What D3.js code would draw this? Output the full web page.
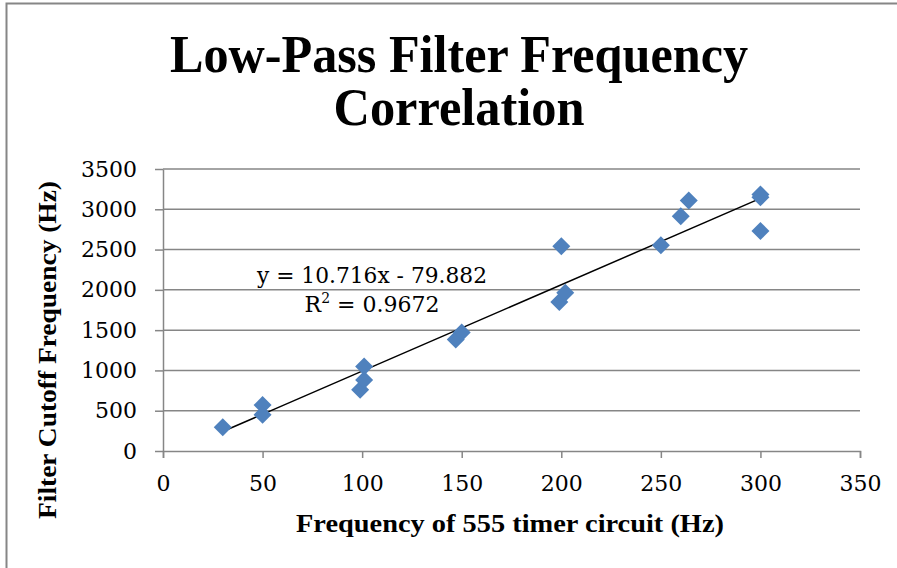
<!DOCTYPE html>
<html lang="en">
<head>
  <meta charset="UTF-8">
  <title>Low-Pass Filter Frequency Correlation</title>
  <script src="https://d3js.org/d3.v7.min.js"></script>
  <style>
    body { margin: 0; background: #fff; }
    .axis text { font-family: "DejaVu Serif", serif; font-size: 22px; fill: #000; }
    .axis path, .axis line { stroke: #868686; stroke-width: 1.5; }
    .grid line { stroke: #868686; stroke-width: 1.5; }
    .title { font-family: "Liberation Serif", serif; font-weight: bold; font-size: 53px; }
    .axis-label { font-family: "Liberation Serif", serif; font-weight: bold; font-size: 26px; }
    .eq { font-family: "DejaVu Serif", serif; font-size: 22px; }
  </style>
</head>
<body>
  <svg width="897" height="568"></svg>

  <script>
    // timer frequency (Hz) vs measured cutoff (Hz)
    const timerHz  = [30, 50, 50, 99, 101, 101, 147, 150, 199, 200, 202, 250, 260, 264, 300, 300, 300];
    const cutoffHz = [295, 570, 450, 760, 880, 1050, 1385, 1470, 1850, 2540, 1965, 2555, 2915, 3110, 3185, 3150, 2730];

    const xTicks = [0, 50, 100, 150, 200, 250, 300, 350];
    const yTicks = [0, 500, 1000, 1500, 2000, 2500, 3000, 3500];

    // trendline as printed on the chart
    const slope = 10.716;
    const intercept = -79.882;
    const rSquared = "0.9672";

    const svgWidth = 897, svgHeight = 568;
    const margin = { top: 169, right: 37, bottom: 117, left: 163 };
    const width = svgWidth - margin.left - margin.right;
    const height = svgHeight - margin.top - margin.bottom;

    const svg = d3.select("svg");

    // outer frame (left + top edges only visible)
    svg.append("path")
       .attr("d", `M6.5,${svgHeight} V3.5 H${svgWidth}`)
       .attr("fill", "none")
       .attr("stroke", "#868686")
       .attr("stroke-width", 2);

    const xScale = d3.scaleLinear().domain([0, 350]).range([0, width]);
    const yScale = d3.scaleLinear().domain([0, 3500]).range([height, 0]);

    const g = svg.append("g").attr("transform", `translate(${margin.left},${margin.top})`);

    // horizontal gridlines
    g.append("g")
     .attr("class", "grid")
     .selectAll("line")
     .data(yTicks.slice(1))
     .enter().append("line")
     .attr("x1", 0)
     .attr("x2", width)
     .attr("y1", d => yScale(d))
     .attr("y2", d => yScale(d));

    // axes
    g.append("g")
     .attr("class", "axis")
     .attr("transform", `translate(0,${height})`)
     .call(d3.axisBottom(xScale).tickValues(xTicks).tickFormat(d3.format("d"))
       .tickSize(7).tickSizeOuter(7).tickPadding(17));

    g.append("g")
     .attr("class", "axis")
     .call(d3.axisLeft(yScale).tickValues(yTicks).tickFormat(d3.format("d"))
       .tickSize(8).tickSizeOuter(0).tickPadding(18));

    // trendline
    const xMin = d3.min(timerHz), xMax = d3.max(timerHz);
    g.append("line")
     .attr("x1", xScale(xMin))
     .attr("y1", yScale(slope * xMin + intercept))
     .attr("x2", xScale(xMax))
     .attr("y2", yScale(slope * xMax + intercept))
     .attr("stroke", "#000")
     .attr("stroke-width", 1.5);

    // diamond markers
    g.selectAll(".pt")
     .data(d3.range(timerHz.length))
     .enter().append("path")
     .attr("class", "pt")
     .attr("d", "M0,-9L9,0L0,9L-9,0Z")
     .attr("transform", i => `translate(${xScale(timerHz[i])},${yScale(cutoffHz[i])})`)
     .attr("fill", "#4F81BD");

    // trendline equation
    svg.append("text").attr("class", "eq").attr("text-anchor", "middle")
       .attr("x", 372).attr("y", 283)
       .attr("textLength", 230).attr("lengthAdjust", "spacingAndGlyphs")
       .text(`y = ${slope}x - ${Math.abs(intercept)}`);
    const r2 = svg.append("text").attr("class", "eq").attr("text-anchor", "middle")
      .attr("x", 372).attr("y", 312);
    r2.append("tspan").text("R");
    r2.append("tspan").attr("dy", -9).style("font-size", "14px").text("2");
    r2.append("tspan").attr("dy", 9).text(` = ${rSquared}`);

    // chart title
    svg.append("text").attr("class", "title")
       .attr("x", 459).attr("y", 72)
       .attr("text-anchor", "middle")
       .attr("textLength", 578).attr("lengthAdjust", "spacingAndGlyphs")
       .text("Low-Pass Filter Frequency");
    svg.append("text").attr("class", "title")
       .attr("x", 459).attr("y", 125)
       .attr("text-anchor", "middle")
       .attr("textLength", 251).attr("lengthAdjust", "spacingAndGlyphs")
       .text("Correlation");

    // axis labels
    svg.append("text").attr("class", "axis-label")
       .attr("x", 510).attr("y", 532)
       .attr("text-anchor", "middle")
       .attr("textLength", 428).attr("lengthAdjust", "spacingAndGlyphs")
       .text("Frequency of 555 timer circuit (Hz)");

    svg.append("text").attr("class", "axis-label")
       .attr("transform", "translate(56,350) rotate(-90)")
       .attr("text-anchor", "middle")
       .attr("textLength", 338).attr("lengthAdjust", "spacingAndGlyphs")
       .text("Filter Cutoff Frequency (Hz)");
  </script>
</body>
</html>
